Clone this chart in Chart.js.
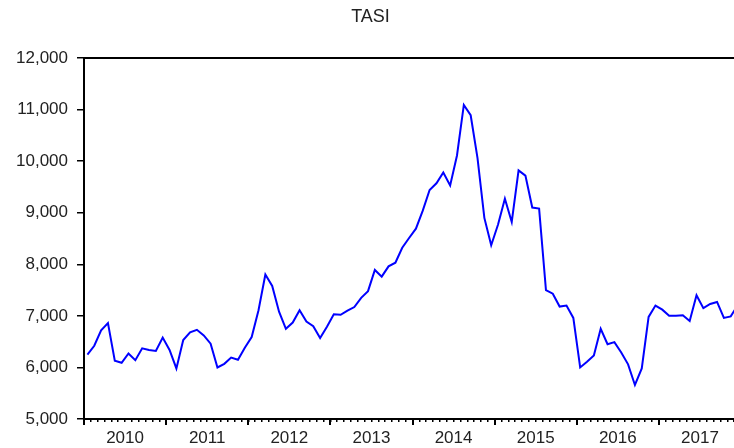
<!DOCTYPE html>
<html>
<head>
<meta charset="utf-8">
<script src="https://cdn.jsdelivr.net/npm/chart.js@4.4.1/dist/chart.umd.min.js"></script>
<style>
    html, body { margin: 0; padding: 0; background: #fff; overflow: hidden; }
    #wrap { width: 750px; height: 448px; }
</style>
</head>
<body>
<div id="wrap"><canvas id="myChart" width="750" height="448"></canvas></div>
<script>
// TASI month-end level, Jan 2010 .. Dec 2017
var years = ["2010", "2011", "2012", "2013", "2014", "2015", "2016", "2017"];
var tasi2010 = [6250, 6420, 6720, 6860, 6130, 6090, 6270, 6140, 6370, 6340, 6320, 6580];
var tasi2011 = [6340, 5980, 6530, 6680, 6730, 6620, 6460, 6000, 6070, 6190, 6150, 6380];
var tasi2012 = [6590, 7110, 7800, 7580, 7080, 6750, 6870, 7110, 6890, 6800, 6570, 6790];
var tasi2013 = [7030, 7020, 7100, 7170, 7350, 7480, 7890, 7760, 7960, 8030, 8320, 8510];
var tasi2014 = [8690, 9040, 9440, 9570, 9780, 9530, 10110, 11090, 10890, 10060, 8900, 8370];
var tasi2015 = [8770, 9270, 8820, 9820, 9720, 9100, 9080, 7500, 7430, 7180, 7200, 6960];
var tasi2016 = [6000, 6110, 6230, 6750, 6450, 6490, 6290, 6060, 5660, 5980, 6980, 7200];
var tasi2017 = [7120, 7000, 7000, 7010, 6900, 7400, 7150, 7230, 7270, 6960, 6990, 7200];
var yTicks = [5000, 6000, 7000, 8000, 9000, 10000, 11000, 12000];

var tasi = [].concat(tasi2010, tasi2011, tasi2012, tasi2013, tasi2014, tasi2015, tasi2016, tasi2017);
var nMonths = years.length * 12;

// each month sits in the middle of its slot
var points = tasi.map(function (v, i) {
    return { x: i + 0.5, y: v };
});

var makeTicks = function (step) {
    var t = [];
    for (var v = 0; v <= nMonths; v += step) t.push({ value: v });
    return t;
};

Chart.defaults.font.family = "'Liberation Sans', Arial, sans-serif";
Chart.defaults.color = "#222";

var myChart = document.getElementById("myChart").getContext("2d");
var chart = new Chart(myChart, {
    type: "line",
    data: {
        datasets: [
            {
                label: "TASI",
                data: points,
                borderColor: "#0000ff",
                backgroundColor: "#0000ff",
                borderWidth: 2,
                pointRadius: 0,
                tension: 0,
                fill: false,
            },
        ],
    },
    options: {
        responsive: false,
        animation: false,
        layout: { padding: { left: 0, right: 9, top: 0, bottom: 0 } },
        plugins: {
            legend: { display: false },
            tooltip: { enabled: false },
            title: {
                display: true,
                text: "TASI",
                color: "#222",
                font: { size: 18, weight: "normal" },
                padding: { top: 6, bottom: 30.4 },
            },
        },
        scales: {
            x: {
                type: "linear",
                position: "bottom",
                min: 0,
                max: nMonths,
                afterBuildTicks: function (scale) {
                    scale.ticks = makeTicks(6);
                },
                ticks: {
                    autoSkip: false,
                    maxRotation: 0,
                    padding: 3,
                    font: { size: 17 },
                    color: "#222",
                    callback: function (value) {
                        return value % 12 === 6 ? years[(value - 6) / 12] : "";
                    },
                },
                grid: {
                    drawOnChartArea: false,
                    tickLength: 6,
                    lineWidth: 2,
                    color: function (ctx) {
                        return ctx.tick && ctx.tick.value % 12 === 0 ? "#000" : "rgba(0,0,0,0)";
                    },
                },
                border: { color: "#000", width: 2 },
                afterFit: function (scale) {
                    scale.height = 29;
                },
            },
            xMinor: {
                type: "linear",
                position: { y: 5000 },
                min: 0,
                max: nMonths,
                afterBuildTicks: function (scale) {
                    scale.ticks = makeTicks(1);
                },
                ticks: {
                    autoSkip: false,
                    maxRotation: 0,
                    callback: function () {
                        return "";
                    },
                },
                grid: { drawOnChartArea: false, tickLength: 3, lineWidth: 1.5, color: "#000" },
                border: { display: false },
            },
            xTop: {
                type: "linear",
                position: "top",
                min: 0,
                max: nMonths,
                ticks: { display: false },
                grid: { drawOnChartArea: false, drawTicks: false },
                border: { color: "#000", width: 2 },
            },
            y: {
                type: "linear",
                position: "left",
                min: 5000,
                max: 12000,
                afterBuildTicks: function (scale) {
                    scale.ticks = yTicks.map(function (v) {
                        return { value: v };
                    });
                },
                ticks: {
                    padding: 9,
                    font: { size: 17 },
                    color: "#222",
                    callback: function (value) {
                        return value.toLocaleString("en-US");
                    },
                },
                grid: { drawOnChartArea: false, tickLength: 7, lineWidth: 1.5, color: "#000" },
                border: { color: "#000", width: 2 },
                afterFit: function (scale) {
                    scale.width = 84;
                },
            },
            yRight: {
                type: "linear",
                position: "right",
                min: 5000,
                max: 12000,
                ticks: { display: false },
                grid: { drawOnChartArea: false, drawTicks: false },
                border: { color: "#000", width: 2 },
            },
        },
    },
});
</script>
</body>
</html>
